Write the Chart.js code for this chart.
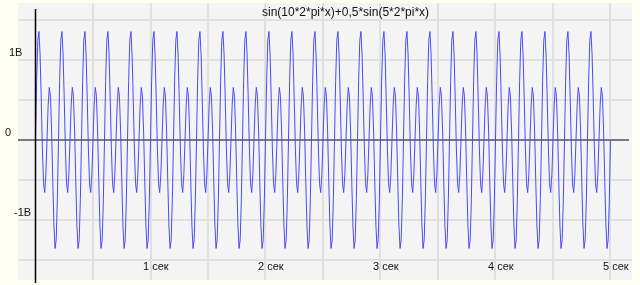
<!DOCTYPE html>
<html>
<head>
<meta charset="utf-8">
<script src="https://cdn.jsdelivr.net/npm/chart.js@4/dist/chart.umd.min.js"></script>
<style>
  html, body { margin: 0; padding: 0; background: #fffff2; }
  canvas { display: block; }
</style>
</head>
<body>
<canvas id="c" width="640" height="285"></canvas>
<script>
// ---- data ----
const chartTitle = "sin(10*2*pi*x)+0,5*sin(5*2*pi*x)";
const sampleStep = 0.01; // seconds between samples
const signalValues = [
  0, 0.742, 1.245, 1.356, 1.063, 0.5, -0.112, -0.547, -0.657, -0.433, 0, 0.433, 0.657, 0.547, 0.112, -0.5, -1.063, -1.356, -1.245, -0.742,
  0, 0.742, 1.245, 1.356, 1.063, 0.5, -0.112, -0.547, -0.657, -0.433, 0, 0.433, 0.657, 0.547, 0.112, -0.5, -1.063, -1.356, -1.245, -0.742,
  0, 0.742, 1.245, 1.356, 1.063, 0.5, -0.112, -0.547, -0.657, -0.433, 0, 0.433, 0.657, 0.547, 0.112, -0.5, -1.063, -1.356, -1.245, -0.742,
  0, 0.742, 1.245, 1.356, 1.063, 0.5, -0.112, -0.547, -0.657, -0.433, 0, 0.433, 0.657, 0.547, 0.112, -0.5, -1.063, -1.356, -1.245, -0.742,
  0, 0.742, 1.245, 1.356, 1.063, 0.5, -0.112, -0.547, -0.657, -0.433, 0, 0.433, 0.657, 0.547, 0.112, -0.5, -1.063, -1.356, -1.245, -0.742,
  0, 0.742, 1.245, 1.356, 1.063, 0.5, -0.112, -0.547, -0.657, -0.433, 0, 0.433, 0.657, 0.547, 0.112, -0.5, -1.063, -1.356, -1.245, -0.742,
  0, 0.742, 1.245, 1.356, 1.063, 0.5, -0.112, -0.547, -0.657, -0.433, 0, 0.433, 0.657, 0.547, 0.112, -0.5, -1.063, -1.356, -1.245, -0.742,
  0, 0.742, 1.245, 1.356, 1.063, 0.5, -0.112, -0.547, -0.657, -0.433, 0, 0.433, 0.657, 0.547, 0.112, -0.5, -1.063, -1.356, -1.245, -0.742,
  0, 0.742, 1.245, 1.356, 1.063, 0.5, -0.112, -0.547, -0.657, -0.433, 0, 0.433, 0.657, 0.547, 0.112, -0.5, -1.063, -1.356, -1.245, -0.742,
  0, 0.742, 1.245, 1.356, 1.063, 0.5, -0.112, -0.547, -0.657, -0.433, 0, 0.433, 0.657, 0.547, 0.112, -0.5, -1.063, -1.356, -1.245, -0.742,
  0, 0.742, 1.245, 1.356, 1.063, 0.5, -0.112, -0.547, -0.657, -0.433, 0, 0.433, 0.657, 0.547, 0.112, -0.5, -1.063, -1.356, -1.245, -0.742,
  0, 0.742, 1.245, 1.356, 1.063, 0.5, -0.112, -0.547, -0.657, -0.433, 0, 0.433, 0.657, 0.547, 0.112, -0.5, -1.063, -1.356, -1.245, -0.742,
  0, 0.742, 1.245, 1.356, 1.063, 0.5, -0.112, -0.547, -0.657, -0.433, 0, 0.433, 0.657, 0.547, 0.112, -0.5, -1.063, -1.356, -1.245, -0.742,
  0, 0.742, 1.245, 1.356, 1.063, 0.5, -0.112, -0.547, -0.657, -0.433, 0, 0.433, 0.657, 0.547, 0.112, -0.5, -1.063, -1.356, -1.245, -0.742,
  0, 0.742, 1.245, 1.356, 1.063, 0.5, -0.112, -0.547, -0.657, -0.433, 0, 0.433, 0.657, 0.547, 0.112, -0.5, -1.063, -1.356, -1.245, -0.742,
  0, 0.742, 1.245, 1.356, 1.063, 0.5, -0.112, -0.547, -0.657, -0.433, 0, 0.433, 0.657, 0.547, 0.112, -0.5, -1.063, -1.356, -1.245, -0.742,
  0, 0.742, 1.245, 1.356, 1.063, 0.5, -0.112, -0.547, -0.657, -0.433, 0, 0.433, 0.657, 0.547, 0.112, -0.5, -1.063, -1.356, -1.245, -0.742,
  0, 0.742, 1.245, 1.356, 1.063, 0.5, -0.112, -0.547, -0.657, -0.433, 0, 0.433, 0.657, 0.547, 0.112, -0.5, -1.063, -1.356, -1.245, -0.742,
  0, 0.742, 1.245, 1.356, 1.063, 0.5, -0.112, -0.547, -0.657, -0.433, 0, 0.433, 0.657, 0.547, 0.112, -0.5, -1.063, -1.356, -1.245, -0.742,
  0, 0.742, 1.245, 1.356, 1.063, 0.5, -0.112, -0.547, -0.657, -0.433, 0, 0.433, 0.657, 0.547, 0.112, -0.5, -1.063, -1.356, -1.245, -0.742,
  0, 0.742, 1.245, 1.356, 1.063, 0.5, -0.112, -0.547, -0.657, -0.433, 0, 0.433, 0.657, 0.547, 0.112, -0.5, -1.063, -1.356, -1.245, -0.742,
  0, 0.742, 1.245, 1.356, 1.063, 0.5, -0.112, -0.547, -0.657, -0.433, 0, 0.433, 0.657, 0.547, 0.112, -0.5, -1.063, -1.356, -1.245, -0.742,
  0, 0.742, 1.245, 1.356, 1.063, 0.5, -0.112, -0.547, -0.657, -0.433, 0, 0.433, 0.657, 0.547, 0.112, -0.5, -1.063, -1.356, -1.245, -0.742,
  0, 0.742, 1.245, 1.356, 1.063, 0.5, -0.112, -0.547, -0.657, -0.433, 0, 0.433, 0.657, 0.547, 0.112, -0.5, -1.063, -1.356, -1.245, -0.742,
  0, 0.742, 1.245, 1.356, 1.063, 0.5, -0.112, -0.547, -0.657, -0.433, 0, 0.433, 0.657, 0.547, 0.112, -0.5, -1.063, -1.356, -1.245, -0.742,
  0
];
const xGridValues = [0.5, 1, 1.5, 2, 2.5, 3, 3.5, 4, 4.5, 5];
const yGridValues = [1.5, 1, 0.5, -0.5, -1, -1.5];
const xTickValues = [1, 2, 3, 4, 5];
const xTickLabels = ["1 сек", "2 сек", "3 сек", "4 сек", "5 сек"];
const yTickValues = [1, 0, -1];
const yTickLabels = ["1В", "0", "-1В"];

// ---- styles ----
const yLabelLeft = [9, 5, 14];
const FONT = 'Arial, "Liberation Sans", sans-serif';

const points = signalValues.map((v, i) => ({ x: i * sampleStep, y: v }));

const decor = {
  id: 'decor',
  beforeDatasetsDraw(chart) {
    const { ctx, chartArea: a, width, height } = chart;
    const xs = chart.scales.x, ys = chart.scales.y;
    ctx.save();
    ctx.fillStyle = '#fffff2';
    ctx.fillRect(0, 0, width, height);
    ctx.fillStyle = '#f4f4f5';
    ctx.fillRect(a.left, a.top, a.right - a.left, a.bottom - a.top);
    // grid
    ctx.strokeStyle = '#e0e0e0';
    ctx.lineWidth = 2;
    xGridValues.forEach(v => {
      const px = Math.round(xs.getPixelForValue(v));
      ctx.beginPath(); ctx.moveTo(px, a.top); ctx.lineTo(px, a.bottom); ctx.stroke();
    });
    yGridValues.forEach(v => {
      const py = Math.round(ys.getPixelForValue(v));
      ctx.beginPath(); ctx.moveTo(a.left, py); ctx.lineTo(a.right, py); ctx.stroke();
    });
    // zero line
    ctx.strokeStyle = '#7a7a7a';
    ctx.lineWidth = 2;
    const y0 = Math.round(ys.getPixelForValue(0));
    ctx.beginPath(); ctx.moveTo(a.left, y0); ctx.lineTo(a.right - 3, y0); ctx.stroke();
    // labels
    ctx.fillStyle = '#111';
    ctx.font = '11px ' + FONT;
    ctx.textBaseline = 'middle';
    ctx.textAlign = 'left';
    xTickValues.forEach((v, i) => {
      const px = xs.getPixelForValue(v);
      ctx.fillText(xTickLabels[i], px - 7.5, 267);
    });
    yTickValues.forEach((v, i) => {
      const py = ys.getPixelForValue(v);
      ctx.fillText(yTickLabels[i], yLabelLeft[i], py - 7);
    });
    // title
    ctx.font = '12px ' + FONT;
    ctx.fillText(chartTitle, 262, 13);
    ctx.restore();
  },
  afterDatasetsDraw(chart) {
    const { ctx } = chart;
    const xs = chart.scales.x;
    const px = xs.getPixelForValue(0);
    ctx.save();
    ctx.strokeStyle = '#000';
    ctx.lineWidth = 1.5;
    ctx.beginPath(); ctx.moveTo(px, 9); ctx.lineTo(px, 283); ctx.stroke();
    ctx.restore();
  }
};

new Chart(document.getElementById('c'), {
  type: 'line',
  data: {
    datasets: [{
      data: points,
      borderColor: '#4a4aff',
      borderWidth: 1,
      pointRadius: 0,
      tension: 0,
      fill: false
    }]
  },
  options: {
    responsive: false,
    animation: false,
    devicePixelRatio: 1,
    layout: { padding: { left: 18, right: 8, top: 3, bottom: 5 } },
    plugins: { legend: { display: false }, tooltip: { enabled: false }, title: { display: false } },
    scales: {
      x: { type: 'linear', display: false, min: -0.1522, max: 5.187 },
      y: { type: 'linear', display: false, min: -1.75, max: 1.7125 }
    }
  },
  plugins: [decor]
});
</script>
</body>
</html>
